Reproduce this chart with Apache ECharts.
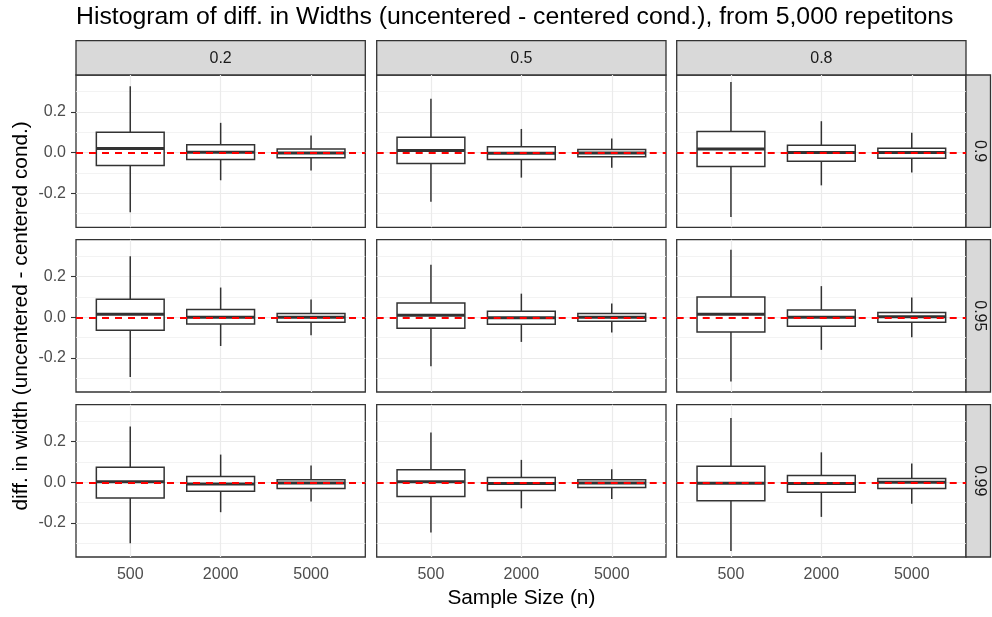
<!DOCTYPE html>
<html><head><meta charset="utf-8">
<script src="https://cdn.jsdelivr.net/npm/echarts@6/dist/echarts.min.js"></script>
<style>html,body{margin:0;padding:0;background:#fff}#c{width:992px;height:617px}</style>
</head><body><div id="c"></div>
<script>
// ---- data ----
const sampleSizes = ['500', '2000', '5000'];
const colLevels = ['0.2', '0.5', '0.8'];
const rowLevels = ['0.9', '0.95', '0.99'];
const yMajorTicks = [-0.2, 0, 0.2];
const yMinorTicks = [-0.3, -0.1, 0.1, 0.3];
const refLineValue = 0;
// each entry: [whisker low, Q1, median, Q3, whisker high] for n = 500, 2000, 5000
const box_r09_c02 = [[-0.293, -0.064, 0.020, 0.100, 0.326], [-0.136, -0.034, 0.001, 0.038, 0.146], [-0.088, -0.026, -0.002, 0.018, 0.084]];
const box_r09_c05 = [[-0.241, -0.054, 0.010, 0.075, 0.264], [-0.123, -0.034, -0.003, 0.029, 0.116], [-0.075, -0.021, -0.002, 0.015, 0.069]];
const box_r09_c08 = [[-0.316, -0.069, 0.018, 0.103, 0.347], [-0.161, -0.043, 0.000, 0.036, 0.154], [-0.098, -0.028, 0.000, 0.021, 0.097]];
const box_r095_c02 = [[-0.293, -0.064, 0.015, 0.088, 0.300], [-0.141, -0.033, 0.000, 0.038, 0.146], [-0.088, -0.025, 0.000, 0.018, 0.087]];
const box_r095_c05 = [[-0.240, -0.054, 0.010, 0.070, 0.258], [-0.121, -0.034, -0.002, 0.029, 0.116], [-0.075, -0.020, 0.000, 0.018, 0.068]];
const box_r095_c08 = [[-0.316, -0.072, 0.015, 0.099, 0.332], [-0.160, -0.044, 0.000, 0.036, 0.153], [-0.098, -0.025, 0.002, 0.023, 0.097]];
const box_r099_c02 = [[-0.300, -0.077, 0.002, 0.074, 0.274], [-0.147, -0.044, -0.008, 0.028, 0.136], [-0.095, -0.031, -0.003, 0.013, 0.082]];
const box_r099_c05 = [[-0.247, -0.070, 0.002, 0.061, 0.244], [-0.128, -0.041, -0.006, 0.023, 0.110], [-0.082, -0.026, -0.003, 0.013, 0.064]];
const box_r099_c08 = [[-0.337, -0.091, -0.005, 0.079, 0.316], [-0.170, -0.049, -0.006, 0.033, 0.147], [-0.105, -0.030, 0.000, 0.018, 0.092]];
const panelData = [
  [box_r09_c02, box_r09_c05, box_r09_c08],
  [box_r095_c02, box_r095_c05, box_r095_c08],
  [box_r099_c02, box_r099_c05, box_r099_c08]
];

// ---- layout ----
const FONT = 'Liberation Sans, Arial, sans-serif';
const colLeft = [76, 376.7, 676.7];
const panelW = 289.3;
const rowTop = [75, 239.7, 404.7];
const panelH = 152.3;
const stripTop = 40.7, stripH = 34.3;
const rStripX = 966, rStripW = 24.5;
const yMin = -0.367, yMax = 0.381;
const tickFont = 16, titleFont = 20.8;

const grids = [], xAxes = [], yAxes = [], series = [], graphics = [];
for (let r = 0; r < 3; r++) {
  for (let c = 0; c < 3; c++) {
    const gi = r * 3 + c;
    const isBottom = r === 2, isLeft = c === 0;
    grids.push({
      left: colLeft[c], top: rowTop[r], width: panelW, height: panelH,
      show: true, backgroundColor: '#fff', borderColor: '#333333', borderWidth: 1.3
    });
    xAxes.push({
      gridIndex: gi, type: 'value', min: -0.6, max: 2.6, position: 'bottom',
      axisLine: { show: false },
      axisTick: { show: isBottom, customValues: [0, 1, 2], length: 5, lineStyle: { color: '#333333', width: 1.1 } },
      axisLabel: { show: isBottom, customValues: [0, 1, 2], formatter: v => sampleSizes[Math.round(v)], color: '#4D4D4D', fontSize: tickFont, fontFamily: FONT, margin: 10 },
      splitLine: { show: true, lineStyle: { color: '#EBEBEB', width: 1.2 } },
      name: (isBottom && c === 1) ? 'Sample Size (n)' : '',
      nameLocation: 'middle', nameGap: 31,
      nameTextStyle: { color: '#000', fontSize: titleFont, fontFamily: FONT }
    });
    // minor y axis (grid lines only)
    yAxes.push({
      gridIndex: gi, type: 'value', min: yMin, max: yMax, position: 'left',
      axisLine: { show: false }, axisLabel: { show: false },
      axisTick: { show: false, customValues: yMinorTicks },
      splitLine: { show: true, lineStyle: { color: '#F0F0F0', width: 0.8 } }
    });
    // major y axis
    yAxes.push({
      gridIndex: gi, type: 'value', min: yMin, max: yMax, position: 'left',
      axisLine: { show: false },
      axisTick: { show: isLeft, customValues: yMajorTicks, length: 5, lineStyle: { color: '#333333', width: 1.1 } },
      axisLabel: { show: isLeft, customValues: yMajorTicks, formatter: v => v.toFixed(1), color: '#4D4D4D', fontSize: tickFont, fontFamily: FONT, margin: 10 },
      splitLine: { show: true, lineStyle: { color: '#EBEBEB', width: 1.2 } },
      name: (isLeft && r === 1) ? 'diff. in width (uncentered - centered cond.)' : '',
      nameLocation: 'middle', nameGap: 44, nameRotate: 90,
      nameTextStyle: { color: '#000', fontSize: titleFont, fontFamily: FONT }
    });
    const data = panelData[r][c].map((b, i) => [i, b[0], b[1], b[2], b[3], b[4]]);
    series.push({
      type: 'custom', xAxisIndex: gi, yAxisIndex: gi * 2 + 1, z: 2,
      data: data, silent: true, clip: false,
      encode: { x: 0, y: [1, 2, 3, 4, 5] },
      renderItem: function (params, api) {
        const x = api.value(0);
        const lo = api.coord([x, api.value(1)]);
        const q1 = api.coord([x, api.value(2)]);
        const md = api.coord([x, api.value(3)]);
        const q3 = api.coord([x, api.value(4)]);
        const hi = api.coord([x, api.value(5)]);
        const half = api.size([0.75, 0])[0] / 2;
        const stroke = '#333333';
        return {
          type: 'group',
          children: [
            { type: 'line', shape: { x1: lo[0], y1: lo[1], x2: q1[0], y2: q1[1] }, style: { stroke, lineWidth: 1.5 } },
            { type: 'line', shape: { x1: q3[0], y1: q3[1], x2: hi[0], y2: hi[1] }, style: { stroke, lineWidth: 1.5 } },
            { type: 'rect', shape: { x: q1[0] - half, y: q3[1], width: half * 2, height: q1[1] - q3[1] }, style: { fill: '#fff', stroke, lineWidth: 1.5 } },
            { type: 'line', shape: { x1: md[0] - half, y1: md[1], x2: md[0] + half, y2: md[1] }, style: { stroke, lineWidth: 3 } }
          ]
        };
      },
      markLine: {
        silent: true, symbol: 'none', label: { show: false }, animation: false, z: 10,
        lineStyle: { color: '#FF0000', type: [7, 6], width: 2 },
        data: [{ yAxis: refLineValue }]
      }
    });
  }
}
// strips
for (let c = 0; c < 3; c++) {
  graphics.push({ type: 'rect', shape: { x: colLeft[c], y: stripTop, width: panelW, height: stripH }, style: { fill: '#D9D9D9', stroke: '#333333', lineWidth: 1.3 }, silent: true });
  graphics.push({ type: 'text', x: colLeft[c] + panelW / 2, y: stripTop + stripH / 2 + 1, style: { text: colLevels[c], fontSize: tickFont, fontFamily: FONT, fill: '#1A1A1A', align: 'center', verticalAlign: 'middle' }, silent: true });
}
for (let r = 0; r < 3; r++) {
  graphics.push({ type: 'rect', shape: { x: rStripX, y: rowTop[r], width: rStripW, height: panelH }, style: { fill: '#D9D9D9', stroke: '#333333', lineWidth: 1.3 }, silent: true });
  graphics.push({ type: 'text', x: rStripX + rStripW / 2 + 1, y: rowTop[r] + panelH / 2, rotation: -Math.PI / 2, style: { text: rowLevels[r], fontSize: tickFont, fontFamily: FONT, fill: '#1A1A1A', align: 'center', verticalAlign: 'middle' }, silent: true });
}

const chart = echarts.init(document.getElementById('c'), null, { renderer: 'canvas' });
chart.setOption({
  animation: false,
  backgroundColor: '#fff',
  title: {
    text: 'Histogram of diff. in Widths (uncentered - centered cond.), from 5,000 repetitons',
    left: 76, top: 5, padding: 0,
    textStyle: { fontSize: 24.8, fontWeight: 'normal', color: '#000', fontFamily: FONT }
  },
  grid: grids, xAxis: xAxes, yAxis: yAxes, series: series,
  graphic: graphics
});
</script></body></html>
